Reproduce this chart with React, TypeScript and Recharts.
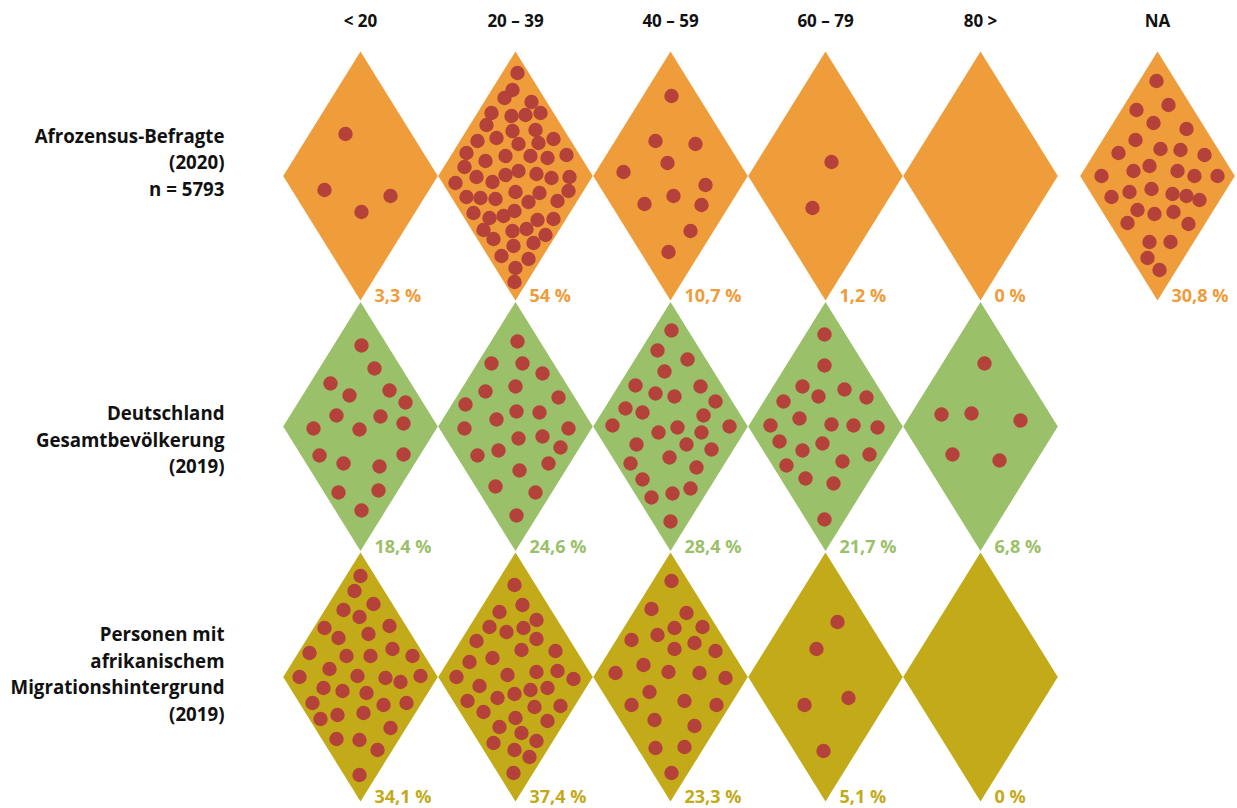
import { Scatter, ScatterChart, XAxis, YAxis } from "recharts"

const ageGroups = ["< 20", "20 – 39", "40 – 59", "60 – 79", "80 >", "NA"]

const groupLabels = [
  ["Afrozensus-Befragte", "(2020)", "n = 5793"],
  ["Deutschland", "Gesamtbevölkerung", "(2019)"],
  ["Personen mit", "afrikanischem", "Migrationshintergrund", "(2019)"],
]

// share per age group in %, null = no cell
const afrozensusShares = [3.3, 54, 10.7, 1.2, 0, 30.8]
const gesamtShares = [18.4, 24.6, 28.4, 21.7, 6.8, null]
const migrationShares = [34.1, 37.4, 23.3, 5.1, 0, null]

// dot offsets (x, y) from the centre of each diamond
const afrozensusDots = [
  [[-15, -42], [-36, 14], [1, 36], [30, 20]],
  [
    [2, -103], [-3, -86], [-11, -78], [16, -74], [-24, -63], [-4, -60], [10, -61], [25, -63],
    [-29, -51], [-3, -45], [20, -46], [-38, -35], [-19, -38], [3, -32], [23, -33], [38, -37],
    [-49, -23], [-10, -20], [15, -20], [32, -18], [51, -21], [-51, -9], [-30, -15], [-39, 1],
    [-10, -1], [3, -5], [21, -2], [36, 2], [54, 1], [-60, 7], [-23, 6], [-49, 21],
    [-35, 22], [-20, 23], [0, 16], [24, 17], [53, 15], [13, 26], [42, 25], [-42, 37],
    [-26, 42], [-12, 40], [-1, 35], [22, 44], [38, 43], [-32, 54], [-22, 63], [-3, 55],
    [11, 53], [30, 59], [-2, 70], [18, 67], [-14, 80], [13, 83], [0, 92], [-1, 106],
  ],
  [[1, -80], [-15, -35], [25, -32], [-3, -13], [-47, -4], [35, 9], [3, 20], [-26, 28], [31, 29], [20, 55], [-2, 76]],
  [[6, -14], [-13, 32]],
  [],
  [
    [-1, -95], [-21, -66], [11, -71], [-4, -53], [29, -47], [-22, -36], [-39, -23], [3, -27],
    [23, -26], [47, -21], [-8, -10], [-24, -5], [20, -5], [-56, 0], [37, 0], [60, 0],
    [-46, 21], [-28, 16], [-6, 13], [15, 18], [29, 20], [42, 24], [-20, 34], [-3, 38],
    [16, 36], [-30, 47], [31, 48], [-8, 66], [13, 66], [-10, 82], [2, 94],
  ],
]

const gesamtDots = [
  [
    [1, -81], [14, -58], [-30, -43], [29, -36], [-11, -31], [45, -24], [-24, -11], [20, -10],
    [43, -3], [-47, 2], [-1, 3], [-41, 29], [-17, 37], [19, 40], [43, 28], [-22, 66], [18, 64], [1, 84],
  ],
  [
    [2, -85], [-24, -63], [7, -63], [27, -53], [-30, -35], [0, -40], [43, -29], [-50, -22],
    [1, -15], [24, -14], [-19, -7], [-51, 2], [53, 2], [3, 12], [27, 10], [45, 21],
    [-17, 24], [-38, 29], [33, 37], [4, 44], [-20, 60], [20, 66], [1, 89],
  ],
  [
    [1, -96], [-13, -76], [17, -67], [-6, -55], [-35, -41], [-15, -33], [4, -30], [30, -40],
    [45, -25], [-45, -18], [-28, -14], [33, -11], [-58, -1], [-12, 6], [7, 1], [31, 6],
    [59, 0], [-34, 18], [16, 18], [41, 23], [-1, 31], [-40, 37], [26, 41], [-28, 53],
    [-19, 71], [2, 67], [20, 62], [0, 95],
  ],
  [
    [-1, -92], [-1, -61], [-23, -40], [19, -37], [-7, -30], [41, -29], [-42, -25], [-26, -8],
    [-55, -1], [6, -2], [28, -1], [52, 1], [-46, 15], [-3, 17], [-23, 24], [44, 28],
    [17, 35], [-39, 39], [-20, 52], [8, 57], [-1, 93],
  ],
  [[4, -63], [-39, -12], [-9, -13], [40, -6], [-28, 28], [19, 34]],
  [],
]

const migrationDots = [
  [
    [0, -101], [-6, -86], [13, -73], [-17, -67], [-1, -60], [-36, -49], [29, -51], [-22, -39],
    [8, -43], [-51, -24], [-14, -21], [10, -21], [32, -28], [52, -21], [-31, -8], [-61, 0],
    [-3, -1], [25, 1], [40, 5], [60, -1], [-37, 11], [-18, 14], [6, 16], [-48, 26],
    [23, 28], [46, 26], [-40, 42], [-23, 38], [3, 36], [30, 51], [-24, 62], [-1, 63],
    [17, 73], [-1, 98],
  ],
  [
    [-1, -92], [7, -72], [-16, -65], [21, -57], [-26, -50], [-9, -45], [8, -49], [21, -38],
    [-39, -36], [6, -27], [40, -26], [-23, -19], [-46, -15], [21, -5], [42, -6], [-8, -2],
    [-59, 0], [58, 2], [-36, 9], [15, 13], [32, 11], [-1, 17], [-18, 21], [-48, 24],
    [19, 30], [45, 29], [-32, 35], [0, 41], [32, 44], [-16, 50], [6, 56], [-22, 66],
    [21, 64], [-1, 73], [14, 80], [-2, 96],
  ],
  [
    [1, -96], [-19, -68], [16, -64], [4, -49], [32, -50], [-39, -37], [-13, -42], [4, -28],
    [24, -34], [45, -26], [-27, -12], [-55, -4], [-2, -5], [29, -4], [55, 1], [-21, 15],
    [-39, 28], [14, 24], [46, 28], [-16, 43], [24, 49], [-15, 71], [14, 70], [1, 96],
  ],
  [[12, -55], [-9, -28], [-21, 28], [23, 21], [-2, 74]],
  [],
  [],
]

const WIDTH = 1237
const HEIGHT = 808
const colX = [360.5, 515.5, 670.5, 825.5, 980.5, 1157.5]
const rowY = [176, 426.5, 677]
const HALF_W = 77.3
const HALF_H = 124.5
const rowFills = ["#EF9C3A", "#9BC06A", "#C2AA18"]
const dotFill = "#B4423A"
const labelBaselines = [142.5, 420, 641]
const LINE_GAP = 26.7
const FONT = "'Open Sans', sans-serif"

const shares = [afrozensusShares, gesamtShares, migrationShares]
const dots = [afrozensusDots, gesamtDots, migrationDots]

const cells = shares.flatMap((row, r) =>
  row.flatMap((v, c) => (v === null ? [] : [{ x: colX[c], y: rowY[r], row: r, value: v }]))
)
const dotPoints = dots.flatMap((row, r) =>
  row.flatMap((list, c) => list.map(([dx, dy]) => ({ x: colX[c] + dx, y: rowY[r] + dy })))
)
const headerPoints = ageGroups.map((g, c) => ({ x: colX[c], y: 27, text: g }))
const rowLabelPoints = groupLabels.flatMap((lines, r) =>
  lines.map((t, i) => ({ x: 224.5, y: labelBaselines[r] + i * LINE_GAP, text: t }))
)

const formatShare = (v: number) => `${String(v).replace(".", ",")} %`

const Diamond = (props: any) => {
  const { cx, cy, payload } = props
  const pts = `${cx},${cy - HALF_H} ${cx + HALF_W},${cy} ${cx},${cy + HALF_H} ${cx - HALF_W},${cy}`
  return <polygon points={pts} fill={rowFills[payload.row]} />
}

const Dot = (props: any) => <circle cx={props.cx} cy={props.cy} r={7.2} fill={dotFill} />

const ShareLabel = (props: any) => {
  const { cx, cy, payload } = props
  return (
    <text x={cx + 14} y={cy + 126} fill={rowFills[payload.row]} fontSize={18} fontWeight={700} fontFamily={FONT}>
      {formatShare(payload.value)}
    </text>
  )
}

const Header = (props: any) => (
  <text x={props.cx} y={props.cy} textAnchor="middle" fill="#111" fontSize={17} fontWeight={700} fontFamily={FONT}>
    {props.payload.text}
  </text>
)

const RowLabel = (props: any) => (
  <text x={props.cx} y={props.cy} textAnchor="end" fill="#111" fontSize={18.7} fontWeight={700} fontFamily={FONT}>
    {props.payload.text}
  </text>
)

export default function App() {
  return (
    <div style={{ position: "absolute", left: 0, top: 0, background: "#fff" }}>
      <ScatterChart width={WIDTH} height={HEIGHT} margin={{ top: 0, right: 0, bottom: 0, left: 0 }}>
        <XAxis type="number" dataKey="x" domain={[0, WIDTH]} hide allowDataOverflow />
        <YAxis type="number" dataKey="y" domain={[0, HEIGHT]} reversed hide allowDataOverflow />
        <Scatter data={cells} shape={Diamond} isAnimationActive={false} />
        <Scatter data={dotPoints} shape={Dot} isAnimationActive={false} />
        <Scatter data={cells} shape={ShareLabel} isAnimationActive={false} />
        <Scatter data={headerPoints} shape={Header} isAnimationActive={false} />
        <Scatter data={rowLabelPoints} shape={RowLabel} isAnimationActive={false} />
      </ScatterChart>
    </div>
  )
}
